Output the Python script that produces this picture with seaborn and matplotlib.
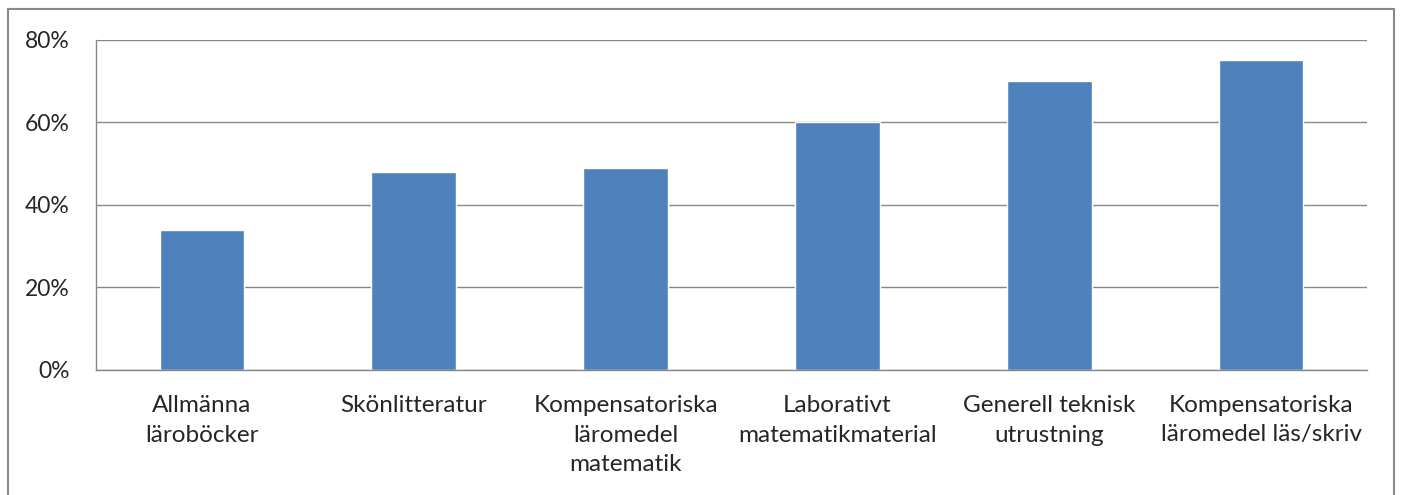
import matplotlib
matplotlib.use("Agg")
import matplotlib.pyplot as plt
from matplotlib.patches import Rectangle
from matplotlib.ticker import PercentFormatter, FixedLocator
import pandas as pd
import seaborn as sns

# Chart data
categories = [
    "Allmänna\nläroböcker",
    "Skönlitteratur",
    "Kompensatoriska\nläromedel\nmatematik",
    "Laborativt\nmatematikmaterial",
    "Generell teknisk\nutrustning",
    "Kompensatoriska\nläromedel läs/skriv",
]
values = [34, 48, 49, 60, 70, 75]
y_ticks = [0, 20, 40, 60, 80]

sns.set_style("white")
plt.rcParams["font.family"] = ["Lato", "DejaVu Sans"]

df = pd.DataFrame({"kategori": categories, "andel": values})

fig = plt.figure(figsize=(14.02, 4.95), dpi=100)
ax = fig.add_axes([96 / 1402, 1 - 370 / 495, (1367 - 96) / 1402, (370 - 39.5) / 495])

sns.barplot(data=df, x="kategori", y="andel", color="#4F81BD", saturation=1,
            width=0.4, ax=ax)

ax.set_xlim(-0.5, len(categories) - 0.5)
ax.set_ylim(0, 80)
ax.set_yticks(y_ticks)
ax.yaxis.set_major_formatter(PercentFormatter(decimals=0))
ax.yaxis.grid(True, color="#888888", linewidth=1)
ax.set_axisbelow(True)

# category boundaries as ticks, labels centred under bars
ax.xaxis.set_major_locator(FixedLocator(range(len(categories))))
ax.set_xticklabels(categories, fontsize=17.5, linespacing=1.5)
ax.tick_params(axis="x", which="major", length=0, pad=18)
ax.xaxis.set_minor_locator(FixedLocator([i - 0.5 for i in range(len(categories) + 1)]))
ax.tick_params(axis="x", which="minor", length=7, width=1, color="#888888", direction="out")
ax.tick_params(axis="y", length=7, width=1, color="#888888", direction="out",
               labelsize=16.5, pad=12)

ax.set_xlabel("")
ax.set_ylabel("")
for side in ["top", "right"]:
    ax.spines[side].set_visible(False)
for side in ["left", "bottom"]:
    ax.spines[side].set_color("#888888")
    ax.spines[side].set_linewidth(1)

# outer frame of the chart area
fig.patches.append(Rectangle((8 / 1402, -0.05), (1394 - 8) / 1402, 1 - 9 / 495 + 0.05,
                             transform=fig.transFigure, fill=False,
                             edgecolor="#888888", linewidth=1.5))

fig.savefig("out.png", dpi=100)
